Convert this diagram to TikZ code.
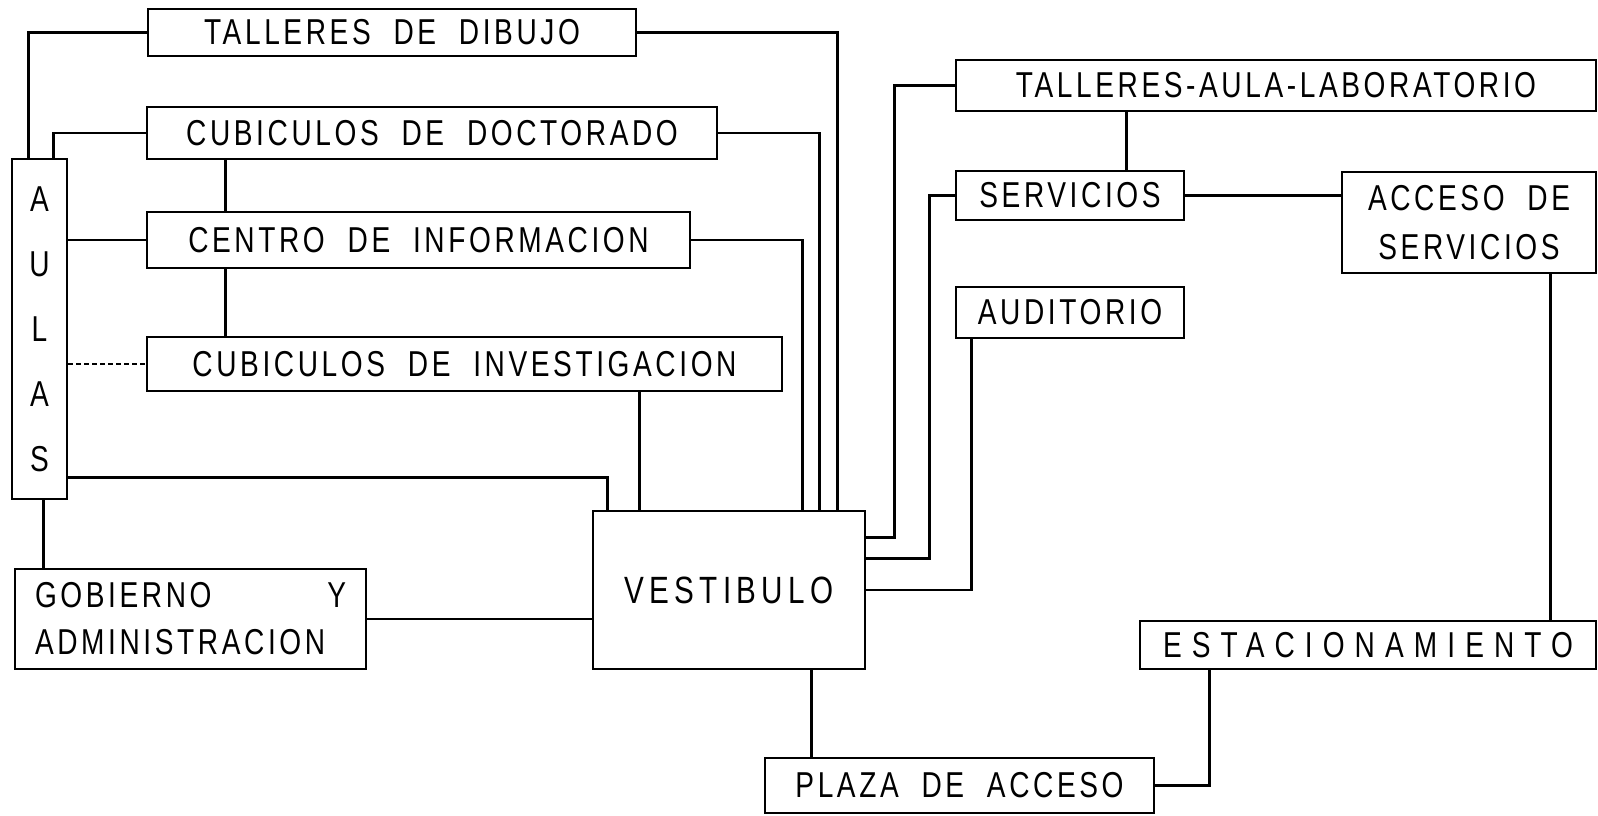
\documentclass[tikz,border=0pt]{standalone}
\usepackage{fontspec}
\setmainfont[FakeStretch=0.78,LetterSpace=10,WordSpace=2]{Liberation Sans}
\usepackage{tikz}
\usetikzlibrary{calc}

\tikzset{
    room/.style={draw, line width=2.6pt, inner sep=0pt, align=center,
        font=\fontsize{36}{47}\selectfont},
    link/.style={line width=2.6pt}
}

\begin{document}
\begin{tikzpicture}[x=1pt, y=-1pt]
    \useasboundingbox (0,0) rectangle (1598,816);

    % Left block
    \node[room, minimum width=488pt, minimum height=47pt] (dibujo) at (392,32.5) {TALLERES DE DIBUJO};
    \node[room, minimum width=570pt, minimum height=52pt] (doctorado) at (432,133) {CUBICULOS DE DOCTORADO};
    \node[room, minimum width=543pt, minimum height=56pt] (centro) at (418.5,240) {CENTRO DE INFORMACION};
    \node[room, minimum width=635pt, minimum height=54pt] (investigacion) at (464.5,364) {CUBICULOS DE INVESTIGACION};
    \node[room, minimum width=55pt, minimum height=340pt, font=\fontsize{36}{65}\selectfont] (aulas) at (39.5,329) {A\\U\\L\\A\\S};
    \node[room, minimum width=351pt, minimum height=100pt, align=left] (gobierno) at (190.5,619)
        {\makebox[311pt][s]{GOBIERNO\hfill Y}\\ADMINISTRACION};

    % Centre and bottom
    \node[room, minimum width=272pt, minimum height=158pt, font=\fontsize{38}{47}\selectfont] (vestibulo) at (729,590) {\addfontfeature{LetterSpace=14}VESTIBULO};
    \node[room, minimum width=389pt, minimum height=55pt] (plaza) at (959.5,785.5) {PLAZA DE ACCESO};
    \node[room, minimum width=456pt, minimum height=48pt] (estacion) at (1368,645) {\addfontfeature{LetterSpace=28}ESTACIONAMIENTO};

    % Right block
    \node[room, minimum width=640pt, minimum height=51pt] (taller) at (1276,85.5) {TALLERES-AULA-LABORATORIO};
    \node[room, minimum width=228pt, minimum height=49pt] (servicios) at (1070,195.5) {SERVICIOS};
    \node[room, minimum width=228pt, minimum height=51pt] (auditorio) at (1070,312.5) {AUDITORIO};
    \node[room, minimum width=254pt, minimum height=101pt, font=\fontsize{36}{49}\selectfont] (acceso) at (1469,222.5) {ACCESO DE\\SERVICIOS};

    % Links from AULAS
    \draw[link] ($(aulas.north west)+(18,0)$) |- (dibujo.west);
    \draw[link] ($(aulas.north west)+(43,0)$) |- (doctorado.west);
    \draw[link] (aulas.east |- centro.west) -- (centro.west);
    \draw[link, line width=2pt, dash pattern=on 5pt off 3pt] (aulas.east |- investigacion.west) -- (investigacion.west);
    \draw[link] ($(aulas.south east)+(0,-23)$) -| ($(vestibulo.north west)+(16,0)$);
    \draw[link] ($(aulas.south)+(4,0)$) -- ($(aulas.south |- gobierno.north)+(4,0)$);

    % Left column
    \draw[link] ($(doctorado.south west)+(80,0)$) -- ($(centro.north west)+(80,0)$);
    \draw[link] ($(centro.south west)+(80,0)$) -- ($(investigacion.north west)+(80,0)$);
    \draw[link] ($(vestibulo.north west)+(48,0)$) -- ($(vestibulo.north west |- investigacion.south)+(48,0)$);
    \draw[link] (dibujo.east) -| ($(vestibulo.north west)+(246,0)$);
    \draw[link] (doctorado.east) -| ($(vestibulo.north west)+(228,0)$);
    \draw[link] (centro.east) -| ($(vestibulo.north west)+(211,0)$);
    \draw[link] (gobierno.east) -- (gobierno.east -| vestibulo.west);

    % Right column
    \draw[link] ($(vestibulo.north east)+(0,28)$) -| ($(taller.west)+(-60,0)$) -- (taller.west);
    \draw[link] ($(vestibulo.north east)+(0,49)$) -| ($(servicios.west)+(-25,0)$) -- (servicios.west);
    \draw[link] (vestibulo.east) -| ($(auditorio.south west)+(17,0)$);
    \draw[link] ($(taller.south west)+(172,0)$) -- ($(taller.south west |- servicios.north)+(172,0)$);
    \draw[link] (servicios.east) -- (servicios.east -| acceso.west);
    \draw[link] ($(acceso.south west)+(210,0)$) -- ($(acceso.south west |- estacion.north)+(210,0)$);

    % Access
    \draw[link] ($(vestibulo.south west)+(220,0)$) -- ($(vestibulo.south west |- plaza.north)+(220,0)$);
    \draw[link] (plaza.east) -| ($(estacion.south west)+(71,0)$);
\end{tikzpicture}
\end{document}
